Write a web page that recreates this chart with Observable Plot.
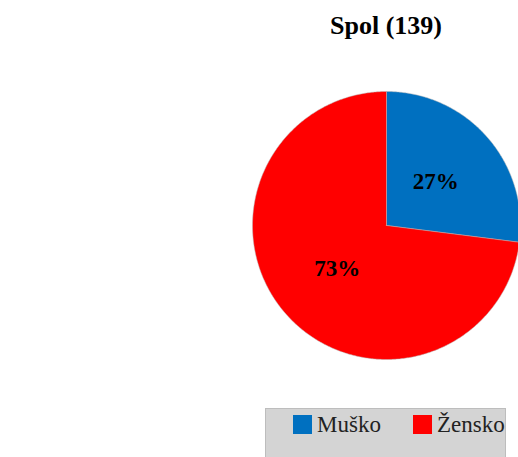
<!DOCTYPE html>
<html><head><meta charset="utf-8">
<script src="https://cdn.jsdelivr.net/npm/d3@7"></script>
<script src="https://cdn.jsdelivr.net/npm/@observablehq/plot@0.6"></script>
<style>
html,body{margin:0;padding:0;background:#fff;width:518px;height:457px;overflow:hidden;}
#wrap{position:relative;width:518px;height:457px;font-family:"Liberation Serif","Times New Roman",serif;}
#title{position:absolute;left:0;width:772px;top:11px;text-align:center;font-weight:bold;font-size:26px;color:#000;}
#legend{position:absolute;left:265px;top:408px;width:241px;height:60px;background:#d4d4d4;border:1px solid #bdbdbd;box-sizing:border-box;}
.item{position:absolute;top:3px;font-size:23px;color:#222;white-space:nowrap;}
.sw{display:inline-block;width:19px;height:19px;vertical-align:-2px;margin-right:5px;}
#chart{position:absolute;left:0;top:0;}
</style></head>
<body><div id="wrap"><div id="chart"></div><div id="title"></div><div id="legend"></div></div>
<script>
const titleText = "Spol (139)";
const categories = ["Muško", "Žensko"];
const values = [27, 73];
const colors = ["#0070C0", "#FF0000"];
const labels = ["27%", "73%"];

document.getElementById("title").textContent = titleText;

const arcs = d3.pie().sort(null).value(d => d.value)(categories.map((c, i) => ({cat: c, value: values[i], color: colors[i], label: labels[i]})));

const poly = [];
arcs.forEach(a => {
  const n = Math.max(2, Math.ceil((a.endAngle - a.startAngle) / 0.01));
  poly.push({x: 0, y: 0, cat: a.data.cat});
  for (let k = 0; k <= n; k++) {
    const t = a.startAngle + (a.endAngle - a.startAngle) * k / n;
    poly.push({x: Math.sin(t), y: Math.cos(t), cat: a.data.cat});
  }
  poly.push({x: 0, y: 0, cat: a.data.cat});
});
const labelPts = arcs.map(a => {
  const m = (a.startAngle + a.endAngle) / 2;
  return {x: 0.49 * Math.sin(m), y: 0.49 * Math.cos(m), label: a.data.label};
});

const cx = 386, cy = 225, r = 134;
const chart = Plot.plot({
  width: 518, height: 457,
  margin: 0,
  style: {background: "transparent", overflow: "hidden"},
  x: {domain: [-1, 1], range: [cx - r, cx + r], axis: null},
  y: {domain: [-1, 1], range: [cy + r, cy - r], axis: null},
  color: {domain: categories, range: colors},
  marks: [
    Plot.line(poly, {x: "x", y: "y", fill: "cat", z: "cat", stroke: "#b8b8b8", strokeWidth: 0.5, curve: "linear-closed"}),
    Plot.text(labelPts, {x: "x", y: "y", text: "label", fontSize: 23, fontWeight: "bold", fontFamily: "Liberation Serif, Times New Roman, serif", fill: "#000"})
  ]
});
document.getElementById("chart").appendChild(chart);

const leg = document.getElementById("legend");
const lpos = [27, 147];
categories.forEach((c, i) => {
  const d = document.createElement("div");
  d.className = "item";
  d.style.left = lpos[i] + "px";
  const s = document.createElement("span");
  s.className = "sw"; s.style.background = colors[i];
  d.appendChild(s);
  d.appendChild(document.createTextNode(c));
  leg.appendChild(d);
});
</script></body></html>
